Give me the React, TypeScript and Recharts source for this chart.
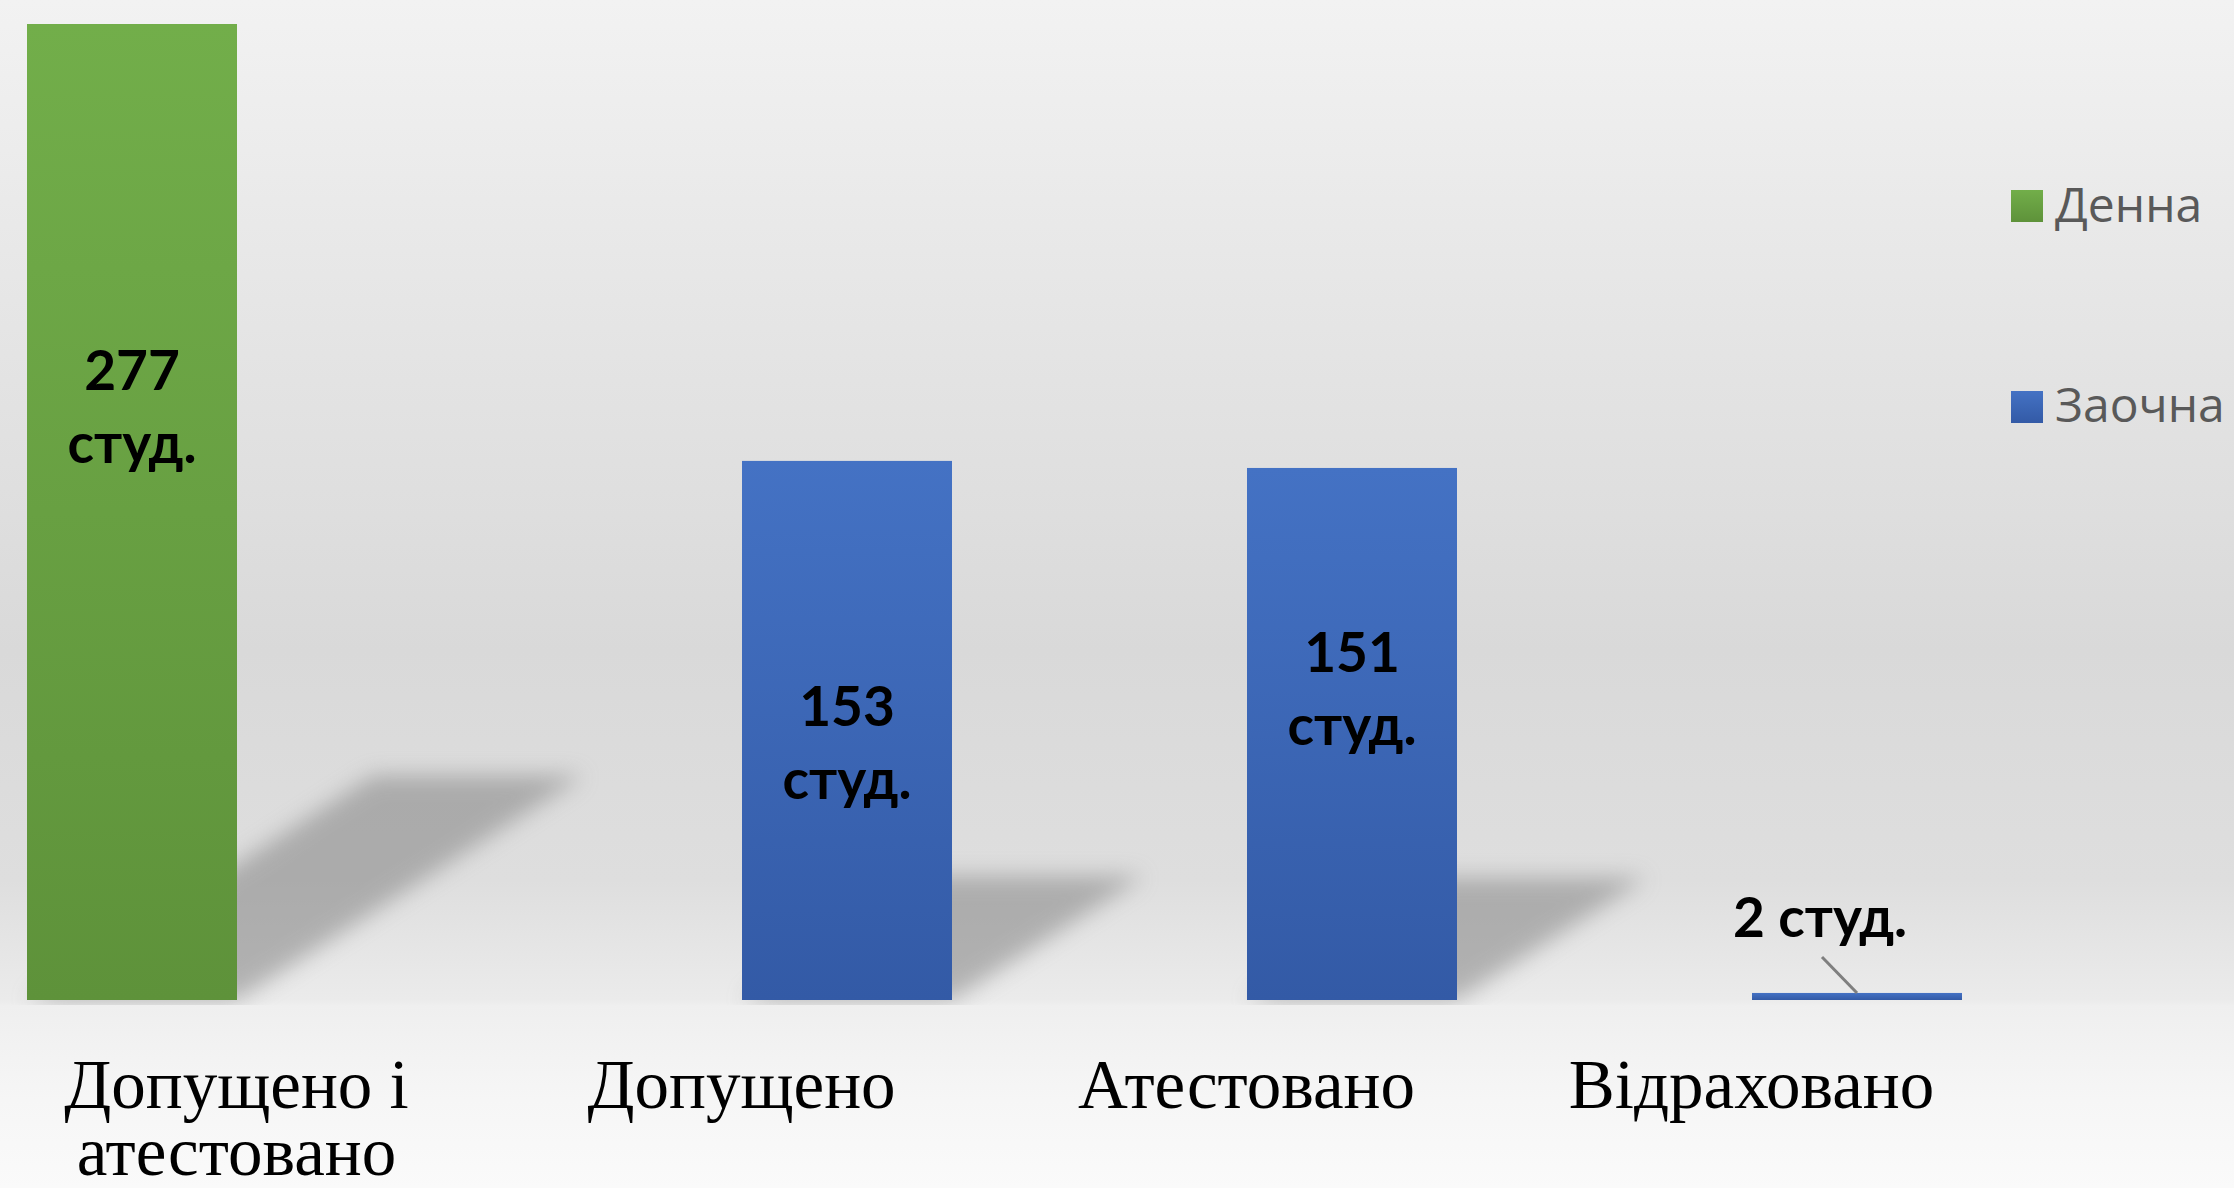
import React from "react";
import { BarChart, Bar, XAxis, YAxis, Legend, LabelList } from "recharts";

const categories = ["Допущено і атестовано", "Допущено", "Атестовано", "Відраховано"];
const tickLines = [["Допущено і", "атестовано"], ["Допущено"], ["Атестовано"], ["Відраховано"]];
const dennaValues: (number | null)[] = [277, null, null, null];
const zaochnaValues: (number | null)[] = [null, 153, 151, 2];
const seriesNames = ["Денна", "Заочна"];
const unitSuffix = "студ.";

const data = categories.map((c, i) => ({
  name: c,
  denna: dennaValues[i],
  zaochna: zaochnaValues[i],
}));

const W = 2234;
const H = 1188;
const CHART_LEFT = -16;
const CHART_W = 2250;
const BASE_Y = 1000;

// label placement (offsets from bar centre, in px, per category) – layout only
const labelShift: Record<string, number[]> = {
  denna: [-122, 0, 0, 0],
  zaochna: [0, -4, -62, 0],
};
const LINE_GAP = 73;

const BarShape = (props: any) => {
  const { x, y, width, height, value, gradId } = props;
  if (value == null || height == null || width == null) return null;
  const h = Math.abs(height);
  const base = y + h;
  const dx = 0.355 * h;
  const dy = 0.23 * h;
  const pts = `${x},${base} ${x + width},${base} ${x + width + dx},${base - dy} ${x + dx},${base - dy}`;
  return (
    <g>
      {h > 20 && (
        <g clipPath="url(#shadowClip)">
          <polygon points={pts} fill="#7a7a7a" opacity={0.5} filter="url(#shadowBlur)" />
        </g>
      )}
      <rect x={x} y={y} width={width} height={h} fill={`url(#${gradId})`} />
    </g>
  );
};

const makeLabel = (key: "denna" | "zaochna") => (props: any) => {
  const { x, y, width, height, value } = props;
  if (value == null) return null;
  const rowIndex = data.findIndex((d) => d[key] === value);
  const cx = x + width / 2;
  const style = { fontFamily: "Lato, 'Open Sans', sans-serif", fontWeight: 700, fontSize: 55, fill: "#000" };
  if (value < 20) {
    const top = y;
    return (
      <g>
        <line x1={cx - 35} y1={top - 36} x2={cx} y2={top} stroke="#7f7f7f" strokeWidth={3} />
        <text x={cx - 37} y={top - 56} textAnchor="middle" style={style}>
          {`${value} ${unitSuffix}`}
        </text>
      </g>
    );
  }
  const cy = y + height / 2 + (labelShift[key]?.[rowIndex] ?? 0);
  return (
    <g>
      <text x={cx} y={cy} textAnchor="middle" style={style}>{value}</text>
      <text x={cx} y={cy + LINE_GAP} textAnchor="middle" style={style}>{unitSuffix}</text>
    </g>
  );
};

const AxisTick = (props: any) => {
  const { x, index } = props;
  const lines = tickLines[index] || [String(props.payload?.value)];
  return (
    <g>
      {lines.map((ln: string, i: number) => (
        <text
          key={i}
          x={x}
          y={BASE_Y + 108 + i * 67}
          textAnchor="middle"
          style={{ fontFamily: "'Liberation Serif', 'Times New Roman', serif", fontSize: 69, fill: "#000" }}
        >
          {ln}
        </text>
      ))}
    </g>
  );
};

const legendColors = [
  ["#72ae4a", "#5e923a"],
  ["#4472c4", "#335aa6"],
];

const LegendContent = () => (
  <div style={{ position: "relative", width: 220, height: 450 }}>
    {seriesNames.map((n, i) => {
      const sqTop = i === 0 ? 190 : 391;
      const txtTop = i === 0 ? 179 : 379;
      return (
        <React.Fragment key={n}>
          <div
            style={{
              position: "absolute",
              left: 0,
              top: sqTop,
              width: 32,
              height: 32,
              background: `linear-gradient(${legendColors[i][0]}, ${legendColors[i][1]})`,
            }}
          />
          <div
            style={{
              position: "absolute",
              left: 44,
              top: txtTop,
              fontFamily: "'Open Sans', sans-serif",
              fontSize: 48,
              lineHeight: "50px",
              color: "#595959",
              whiteSpace: "nowrap",
            }}
          >
            {n}
          </div>
        </React.Fragment>
      );
    })}
  </div>
);

export default function App() {
  return (
    <div
      style={{
        position: "absolute",
        left: 0,
        top: 0,
        width: W,
        height: H,
        overflow: "hidden",
        background:
          "linear-gradient(to bottom, #f2f2f2 0px, #e6e6e6 300px, #d9d9d9 650px, #dedede 880px, #ebebeb 1000px, #efefef 1006px, #f6f6f6 1100px, #fafafa 1188px)",
      }}
    >
      <div style={{ position: "absolute", left: CHART_LEFT, top: 0 }}>
        <BarChart
          width={CHART_W}
          height={H}
          data={data}
          margin={{ top: 24, right: 230, bottom: 0, left: 0 }}
          barGap={0}
        >
          <defs>
            <linearGradient id="gradGreen" x1="0" y1="0" x2="0" y2="1">
              <stop offset="0%" stopColor="#72ae4a" />
              <stop offset="100%" stopColor="#5e923a" />
            </linearGradient>
            <linearGradient id="gradBlue" x1="0" y1="0" x2="0" y2="1">
              <stop offset="0%" stopColor="#4472c4" />
              <stop offset="100%" stopColor="#335aa6" />
            </linearGradient>
            <filter id="shadowBlur" x="-30%" y="-30%" width="160%" height="160%">
              <feGaussianBlur stdDeviation="11" />
            </filter>
            <clipPath id="shadowClip">
              <rect x={-100} y={0} width={2500} height={1005} />
            </clipPath>
          </defs>
          <XAxis
            dataKey="name"
            height={188}
            axisLine={false}
            tickLine={false}
            interval={0}
            tick={<AxisTick />}
          />
          <YAxis hide domain={[0, 277]} />
          <Legend
            layout="vertical"
            align="center"
            verticalAlign="middle"
            content={<LegendContent />}
            wrapperStyle={{ left: 2027, top: 0, width: 220, height: 450 }}
          />
          <Bar
            dataKey="denna"
            name={seriesNames[0]}
            fill="#70ad47"
            barSize={210}
            isAnimationActive={false}
            shape={(p: any) => <BarShape {...p} gradId="gradGreen" />}
          >
            <LabelList dataKey="denna" content={makeLabel("denna")} />
          </Bar>
          <Bar
            dataKey="zaochna"
            name={seriesNames[1]}
            fill="#4472c4"
            barSize={210}
            isAnimationActive={false}
            shape={(p: any) => <BarShape {...p} gradId="gradBlue" />}
          >
            <LabelList dataKey="zaochna" content={makeLabel("zaochna")} />
          </Bar>
        </BarChart>
      </div>
    </div>
  );
}
